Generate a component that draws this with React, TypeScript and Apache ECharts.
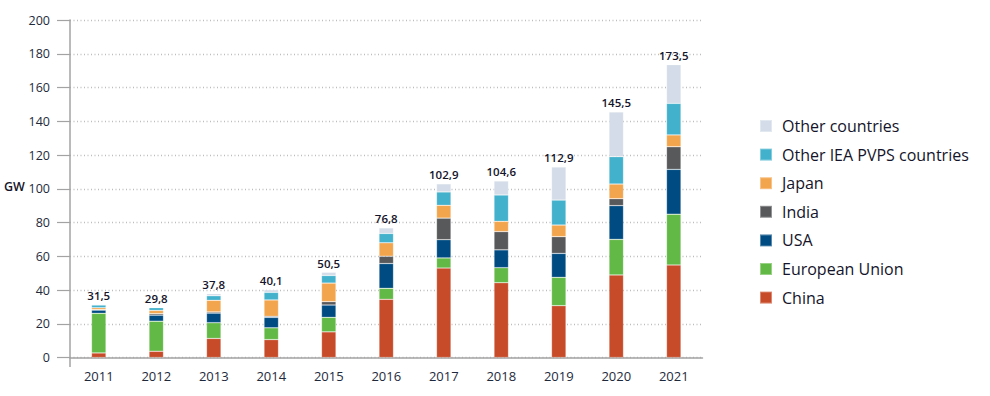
import React, { useEffect, useRef } from "react";
import * as echarts from "echarts";

const years = ["2011", "2012", "2013", "2014", "2015", "2016", "2017", "2018", "2019", "2020", "2021"];
const china = [2.7, 3.7, 11.3, 10.6, 15.2, 34.5, 53.0, 44.3, 30.7, 48.9, 54.8];
const eu = [23.5, 17.8, 9.3, 7.0, 8.6, 6.5, 6.0, 8.9, 16.8, 21.1, 30.1];
const usa = [1.9, 3.6, 5.7, 6.2, 7.3, 14.7, 10.8, 10.6, 14.2, 20.0, 26.6];
const india = [0.3, 0.9, 0.7, 0.6, 2.0, 4.3, 12.8, 10.8, 9.9, 4.1, 13.4];
const japan = [1.1, 1.9, 6.9, 9.7, 11.0, 8.0, 7.6, 6.1, 6.9, 8.7, 7.0];
const otherIea = [1.6, 1.6, 2.7, 4.5, 4.5, 5.5, 7.9, 15.6, 14.8, 16.2, 18.7];
const otherCountries = [0.4, 0.3, 1.2, 1.5, 1.9, 3.3, 4.8, 8.3, 19.6, 26.5, 22.9];
const totals = [31.5, 29.8, 37.8, 40.1, 50.5, 76.8, 102.9, 104.6, 112.9, 145.5, 173.5];
const yTicks = [0, 20, 40, 60, 80, 100, 120, 140, 160, 180, 200];

const seriesDefs = [
  { name: "China", data: china, color: "#c84b29" },
  { name: "European Union", data: eu, color: "#63b946" },
  { name: "USA", data: usa, color: "#004c82" },
  { name: "India", data: india, color: "#58595b" },
  { name: "Japan", data: japan, color: "#f2a54d" },
  { name: "Other IEA PVPS countries", data: otherIea, color: "#42b1cc" },
  { name: "Other countries", data: otherCountries, color: "#d3dce8" },
];

const FONT = "'Open Sans', 'Noto Sans', sans-serif";

export default function App() {
  const ref = useRef<HTMLDivElement>(null);
  useEffect(() => {
    document.body.style.margin = "0";
    if (!ref.current) return;
    const chart = echarts.init(ref.current, null, { renderer: "svg" });
    const last = seriesDefs.length - 1;
    chart.setOption({
      animation: false,
      textStyle: { fontFamily: FONT },
      grid: { left: 70, top: 20, width: 632.5, height: 337.5 },
      legend: {
        orient: "vertical",
        left: 754,
        top: 111,
        itemWidth: 12,
        itemHeight: 12,
        itemGap: 8.6,
        icon: "rect",
        data: seriesDefs.map((s) => s.name).reverse(),
        textStyle: { fontFamily: FONT, fontSize: 16, fontWeight: 500, color: "#14142a", padding: [0, 0, 0, 5], lineHeight: 20 },
      },
      xAxis: {
        type: "category",
        data: years,
        axisLine: { lineStyle: { color: "#a3a3a3", width: 1.5 } },
        axisTick: { show: false },
        axisLabel: { color: "#1e2a3c", fontSize: 13, margin: 12, fontFamily: FONT, fontWeight: 500 },
      },
      yAxis: {
        type: "value",
        min: 0,
        max: 200,
        interval: 20,
        axisLine: { show: true, lineStyle: { color: "#a3a3a3", width: 1.5 } },
        axisTick: { show: true, length: 13, lineStyle: { color: "#a3a3a3", width: 1.2 } },
        axisLabel: {
          color: "#1e2a3c",
          fontSize: 12.5,
          margin: 20,
          fontFamily: FONT,
          fontWeight: 500,
          formatter: (v: number) => (yTicks.includes(v) ? String(v) : ""),
        },
        splitLine: { show: true, lineStyle: { color: "#bdbdbd", type: [1, 2.5], width: 1.3 } },
      },
      graphic: [
        { type: "text", left: 4, top: 180, style: { text: "GW", fontSize: 12.5, fontWeight: 600, fill: "#14142a", fontFamily: FONT } },
        { type: "line", shape: { x1: 70, y1: 357.5, x2: 70, y2: 367 }, style: { stroke: "#a3a3a3", lineWidth: 1.5 } },
      ],
      series: seriesDefs.map((s, i) => ({
        name: s.name,
        type: "bar",
        stack: "total",
        barWidth: 14.5,
        data: s.data,
        itemStyle: { color: s.color, borderColor: "rgba(255,255,255,0.35)", borderWidth: 0.6 },
        label:
          i === last
            ? {
                show: true,
                position: "top",
                distance: 3,
                fontSize: 11.5,
                fontWeight: 600,
                color: "#14142a",
                fontFamily: FONT,
                formatter: (p: any) => totals[p.dataIndex].toFixed(1).replace(".", ","),
              }
            : { show: false },
      })),
    });
    return () => chart.dispose();
  }, []);
  return <div ref={ref} style={{ width: 990, height: 396 }} />;
}
